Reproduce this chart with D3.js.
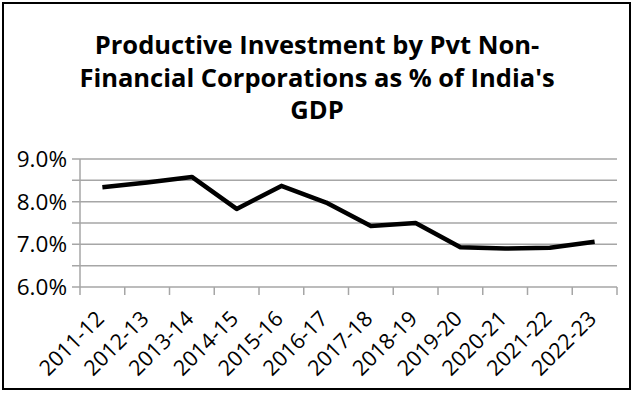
<!DOCTYPE html>
<html>
<head>
<meta charset="utf-8">
<script src="https://cdn.jsdelivr.net/npm/d3@7"></script>
<style>
  body { margin: 0; background: #fff; }
  svg { display: block; font-family: 'Open Sans', 'Noto Sans', sans-serif; }
</style>
</head>
<body>
<div id="chart"></div>
<script>
  // data
  const years = ['2011-12', '2012-13', '2013-14', '2014-15', '2015-16', '2016-17',
    '2017-18', '2018-19', '2019-20', '2020-21', '2021-22', '2022-23'];
  const investPct = [8.34, 8.45, 8.58, 7.83, 8.37, 7.98, 7.43, 7.50, 6.93, 6.90, 6.92, 7.06];
  const yTicks = [6, 7, 8, 9];
  const yGrid = [6, 6.5, 7, 7.5, 8, 8.5, 9];
  const titleLines = ['Productive Investment by Pvt Non-', "Financial Corporations as % of India's", 'GDP'];

  const W = 635, H = 394;
  const plot = { left: 80, right: 617, top: 159, bottom: 287 };
  const gridColor = '#a6a6a6';

  const svg = d3.select('#chart').append('svg')
    .attr('width', W).attr('height', H);

  // outer frame
  svg.append('rect')
    .attr('x', 3).attr('y', 3)
    .attr('width', 627).attr('height', 386)
    .attr('fill', '#fff').attr('stroke', '#000').attr('stroke-width', 2);

  // title
  svg.append('g').selectAll('text')
    .data(titleLines)
    .join('text')
    .attr('x', 317)
    .attr('y', (d, i) => 54 + i * 32.5)
    .attr('text-anchor', 'middle')
    .style('font-size', '25.5px')
    .style('font-weight', 'bold')
    .attr('fill', '#000')
    .text(d => d);

  const x = d3.scaleBand().domain(years).range([plot.left, plot.right]);
  const y = d3.scaleLinear().domain([6, 9]).range([plot.bottom, plot.top]);

  // horizontal gridlines (with small tick stubs left of the axis)
  svg.append('g').selectAll('line')
    .data(yGrid)
    .join('line')
    .attr('x1', plot.left - 8).attr('x2', plot.right)
    .attr('y1', d => y(d)).attr('y2', d => y(d))
    .attr('stroke', gridColor).attr('stroke-width', 1.5);

  // y axis line
  svg.append('line')
    .attr('x1', plot.left).attr('x2', plot.left)
    .attr('y1', plot.top).attr('y2', plot.bottom)
    .attr('stroke', gridColor).attr('stroke-width', 1.5);

  // x tick marks at band edges
  const edges = years.map(d => x(d)).concat([plot.right]);
  svg.append('g').selectAll('line')
    .data(edges)
    .join('line')
    .attr('x1', d => d).attr('x2', d => d)
    .attr('y1', plot.bottom).attr('y2', plot.bottom + 8)
    .attr('stroke', gridColor).attr('stroke-width', 1.5);

  // y labels
  svg.append('g').selectAll('text')
    .data(yTicks)
    .join('text')
    .attr('x', plot.left - 13)
    .attr('y', d => y(d))
    .attr('dy', '0.36em')
    .attr('text-anchor', 'end')
    .style('font-size', '22.5px')
    .attr('fill', '#000')
    .text(d => d3.format('.1f')(d) + '%');

  // x labels, rotated
  svg.append('g').selectAll('text')
    .data(years)
    .join('text')
    .attr('transform', d => `translate(${x(d) + x.bandwidth() / 2 + 3}, ${plot.bottom + 33}) rotate(-45)`)
    .attr('text-anchor', 'end')
    .style('font-size', '21.5px')
    .attr('fill', '#000')
    .text(d => d);

  // the series line
  const line = d3.line()
    .x((d, i) => x(years[i]) + x.bandwidth() / 2)
    .y(d => y(d));

  svg.append('path')
    .datum(investPct)
    .attr('d', line)
    .attr('fill', 'none')
    .attr('stroke', '#000')
    .attr('stroke-width', 4.5)
    .attr('stroke-linejoin', 'round');
</script>
</body>
</html>
